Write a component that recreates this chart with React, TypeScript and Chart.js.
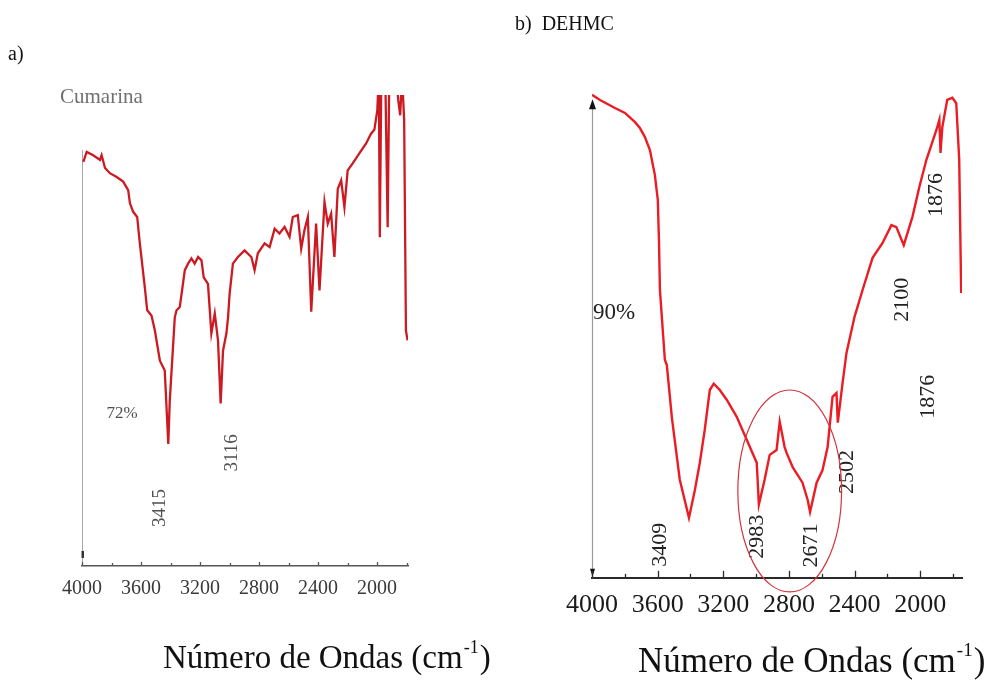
import { useEffect, useRef } from "react";
import { Chart, registerables } from "chart.js";

Chart.register(...registerables);

const SERIF = '"Liberation Serif", "Times New Roman", serif';

// ---------- data: a) Cumarina ----------
const CUMARINA_WAVENUMBERS = [
  3991, 3968, 3924, 3878, 3867, 3844, 3811, 3765, 3721, 3687, 3675, 3653, 3626, 3608, 3574,
  3558, 3529, 3506, 3472, 3439, 3415, 3405, 3371, 3359, 3337, 3303, 3281, 3258, 3236, 3213,
  3190, 3175, 3146, 3123, 3100, 3078, 3060, 3044, 3021, 3010, 2999, 2977, 2943, 2898, 2852,
  2830, 2808, 2762, 2728, 2694, 2661, 2627, 2593, 2571, 2537, 2514, 2492, 2469, 2446, 2413,
  2390, 2356, 2334, 2311, 2289, 2266, 2243, 2221, 2199, 2165, 2120, 2074, 2041, 2018, 1998,
  1988, 1981, 1971, 1944, 1928, 1917, 1870, 1856, 1843, 1830, 1816, 1804, 1793,
];
const CUMARINA_TRANSMITTANCE = [
  85.8, 87.9, 87.2, 86.2, 87.2, 84.5, 83.4, 82.6, 81.6, 79.8, 77.0, 75.2, 74.1, 68.5, 59.1,
  54.3, 53.2, 50.0, 43.6, 41.5, 25.9, 35.1, 52.8, 54.3, 55.0, 62.8, 64.2, 65.3, 64.2, 65.6,
  64.9, 61.3, 59.9, 49.4, 53.6, 47.9, 34.5, 45.7, 49.4, 52.8, 57.9, 64.2, 65.6, 67.0, 65.6,
  62.8, 66.4, 68.5, 67.7, 71.6, 70.6, 72.0, 69.9, 74.1, 74.5, 67.4, 71.3, 74.1, 54.0, 72.7,
  58.5, 77.3, 72.7, 74.8, 65.6, 80.1, 81.9, 76.2, 84.0, 85.5, 87.6, 89.7, 91.8, 92.6, 96.8,
  104, 69.8, 104, 104, 71.9, 104, 104, 98.9, 95.7, 104, 94.7, 50.0, 47.9,
];

// ---------- data: b) DEHMC ----------
const DEHMC_WAVENUMBERS = [
  4000, 3951, 3860, 3799, 3738, 3708, 3678, 3647, 3617, 3599, 3592, 3586, 3556, 3544, 3513,
  3465, 3409, 3373, 3343, 3313, 3282, 3258, 3221, 3179, 3118, 3057, 2996, 2983, 2948, 2917,
  2875, 2856, 2826, 2814, 2777, 2717, 2686, 2671, 2631, 2595, 2564, 2534, 2510, 2502, 2473,
  2449, 2400, 2351, 2290, 2230, 2175, 2145, 2100, 2047, 2005, 1962, 1901, 1883, 1876, 1865,
  1835, 1804, 1780, 1762, 1750,
];
const DEHMC_TRANSMITTANCE = [
  99.0, 97.95, 96.3, 95.3, 93.4, 92.2, 90.4, 87.7, 82.6, 77.5, 69.3, 59.0, 44.7, 43.6, 32.8,
  20.1, 12.3, 18.0, 23.6, 30.3, 38.5, 39.8, 38.5, 36.5, 33.0, 28.3, 23.6, 15.0, 20.1, 25.2,
  26.2, 32.0, 26.8, 25.6, 22.7, 19.5, 16.0, 13.5, 19.5, 22.1, 26.8, 37.1, 37.9, 31.8, 39.9,
  46.1, 53.5, 59.0, 65.6, 68.6, 72.3, 71.9, 68.2, 74.0, 80.1, 85.7, 91.8, 93.9, 87.1, 92.4,
  98.0, 98.4, 97.3, 85.7, 58.4,
];

// ---------- axis ticks ----------
const X_TICK_VALUES = [4000, 3800, 3600, 3400, 3200, 3000, 2800, 2600, 2400, 2200, 2000, 1800];
const X_TICK_LABELS = ["4000", "", "3600", "", "3200", "", "2800", "", "2400", "", "2000", ""];

// ---------- annotations ----------
type Note = {
  text: string;
  wn: number;
  t: number;
  rotate?: boolean;
  size: number;
  color: string;
  align?: CanvasTextAlign;
};

const CUMARINA_NOTES: Note[] = [
  { text: "Cumarina", wn: 4149, t: 99.5, size: 21, color: "#707070", align: "left" },
  { text: "72%", wn: 3729, t: 32.3, size: 17, color: "#505050" },
  { text: "3415", wn: 3472, t: 12.3, rotate: true, size: 19, color: "#505050" },
  { text: "3116", wn: 2985, t: 24.0, rotate: true, size: 19, color: "#505050" },
];

const DEHMC_NOTES: Note[] = [
  { text: "90%", wn: 3866, t: 54.3, size: 23, color: "#222222" },
  { text: "3409", wn: 3586, t: 6.8, rotate: true, size: 22, color: "#222222" },
  { text: "2983", wn: 2996, t: 8.4, rotate: true, size: 22, color: "#222222" },
  { text: "2671", wn: 2662, t: 6.6, rotate: true, size: 22, color: "#222222" },
  { text: "2502", wn: 2443, t: 21.7, rotate: true, size: 22, color: "#222222" },
  { text: "2100", wn: 2108, t: 57.0, rotate: true, size: 22, color: "#222222" },
  { text: "1876", wn: 1901, t: 78.5, rotate: true, size: 22, color: "#222222" },
  { text: "1876", wn: 1950, t: 37.1, rotate: true, size: 22, color: "#222222" },
];

type Panel = {
  wavenumbers: number[];
  values: number[];
  xMin: number;
  lineColor: string;
  lineWidth: number;
  padding: { left: number; right: number; top: number; bottom: number };
  tickSize: number;
  tickColor: string;
  tickPad: number;
  axisColor: string;
  axisWidth: number;
  majorLen: number;
  minorLen: number;
  notes: Note[];
  underlay: (chart: any, ctx: CanvasRenderingContext2D) => void;
  overlay: (chart: any, ctx: CanvasRenderingContext2D) => void;
};

function drawAxisTitle(ctx: CanvasRenderingContext2D, x: number, y: number, size: number) {
  ctx.save();
  ctx.fillStyle = "#111";
  ctx.textAlign = "left";
  ctx.textBaseline = "alphabetic";
  ctx.font = `${size}px ${SERIF}`;
  const main = "Número de Ondas (cm";
  ctx.fillText(main, x, y);
  const w1 = ctx.measureText(main).width;
  const sup = Math.round(size * 0.55);
  ctx.font = `${sup}px ${SERIF}`;
  ctx.fillText("-1", x + w1 + 1, y - size * 0.45);
  const w2 = ctx.measureText("-1").width;
  ctx.font = `${size}px ${SERIF}`;
  ctx.fillText(")", x + w1 + w2 + 2, y);
  ctx.restore();
}

const LEFT_PANEL: Panel = {
  wavenumbers: CUMARINA_WAVENUMBERS,
  values: CUMARINA_TRANSMITTANCE,
  xMin: 1790,
  lineColor: "#cc1a22",
  lineWidth: 2.3,
  padding: { left: 82, right: 90, top: 95, bottom: 74 },
  tickSize: 20,
  tickColor: "#3a3a3a",
  tickPad: 11,
  axisColor: "#555",
  axisWidth: 1.5,
  majorLen: 4,
  minorLen: 3,
  notes: CUMARINA_NOTES,
  underlay: (chart, ctx) => {
    const x = chart.scales.x;
    const y = chart.scales.y;
    const px = Math.round(x.getPixelForValue(4000)) + 0.5;
    ctx.save();
    ctx.strokeStyle = "#a8a8a8";
    ctx.lineWidth = 1;
    ctx.beginPath();
    ctx.moveTo(px, y.getPixelForValue(88.3));
    ctx.lineTo(px, y.getPixelForValue(0));
    ctx.stroke();
    ctx.fillStyle = "#333";
    ctx.fillRect(px - 1, y.getPixelForValue(3.2), 2.5, 7);
    ctx.restore();
  },
  overlay: (_chart, ctx) => {
    ctx.save();
    ctx.fillStyle = "#111";
    ctx.font = `20px ${SERIF}`;
    ctx.textAlign = "left";
    ctx.textBaseline = "alphabetic";
    ctx.fillText("a)", 8, 60);
    ctx.restore();
    drawAxisTitle(ctx, 163, 668, 33);
  },
};

const RIGHT_PANEL: Panel = {
  wavenumbers: DEHMC_WAVENUMBERS,
  values: DEHMC_TRANSMITTANCE,
  xMin: 1745,
  lineColor: "#ea1c24",
  lineWidth: 2.4,
  padding: { left: 94, right: 34, top: 90, bottom: 53 },
  tickSize: 26,
  tickColor: "#1a1a1a",
  tickPad: 12,
  axisColor: "#2a2a2a",
  axisWidth: 2,
  majorLen: 7,
  minorLen: 4,
  notes: DEHMC_NOTES,
  underlay: (chart, ctx) => {
    const x = chart.scales.x;
    const y = chart.scales.y;
    const px = Math.round(x.getPixelForValue(4000)) + 0.5;
    const top = y.getPixelForValue(97.5);
    const bottom = y.getPixelForValue(0);
    ctx.save();
    ctx.strokeStyle = "#9a9a9a";
    ctx.lineWidth = 1.2;
    ctx.beginPath();
    ctx.moveTo(px, top + 4);
    ctx.lineTo(px, bottom);
    ctx.stroke();
    ctx.fillStyle = "#111";
    ctx.beginPath();
    ctx.moveTo(px, top - 3);
    ctx.lineTo(px - 3.5, top + 7);
    ctx.lineTo(px + 3.5, top + 7);
    ctx.closePath();
    ctx.fill();
    ctx.beginPath();
    ctx.moveTo(px, bottom - 1);
    ctx.lineTo(px - 2.5, bottom - 9);
    ctx.lineTo(px + 2.5, bottom - 9);
    ctx.closePath();
    ctx.fill();
    ctx.restore();
  },
  overlay: (chart, ctx) => {
    const x = chart.scales.x;
    const y = chart.scales.y;
    // highlight ellipse around the 2983 / 2671 bands
    const cx = x.getPixelForValue(2795);
    const cy = y.getPixelForValue(17.8);
    const rx = Math.abs(x.getPixelForValue(2795 - 316) - cx);
    const ry = Math.abs(y.getPixelForValue(17.8 + 20.7) - cy);
    ctx.save();
    ctx.strokeStyle = "#d2343e";
    ctx.lineWidth = 1.2;
    ctx.beginPath();
    ctx.ellipse(cx, cy, rx, ry, 0, 0, Math.PI * 2);
    ctx.stroke();
    ctx.fillStyle = "#111";
    ctx.font = `20px ${SERIF}`;
    ctx.textAlign = "left";
    ctx.textBaseline = "alphabetic";
    ctx.fillText("b)  DEHMC", 17, 30);
    ctx.restore();
    drawAxisTitle(ctx, 140, 672, 35);
  },
};

function buildChart(canvas: HTMLCanvasElement, panel: Panel) {
  const decor = {
    id: "decor",
    beforeDatasetsDraw(chart: any) {
      panel.underlay(chart, chart.ctx);
    },
    afterDraw(chart: any) {
      const ctx: CanvasRenderingContext2D = chart.ctx;
      const x = chart.scales.x;
      const y = chart.scales.y;
      const base = chart.chartArea.bottom;
      ctx.save();
      ctx.strokeStyle = panel.axisColor;
      ctx.lineWidth = 1.3;
      X_TICK_VALUES.forEach((v, i) => {
        const px = Math.round(x.getPixelForValue(v)) + 0.5;
        const len = X_TICK_LABELS[i] ? panel.majorLen : panel.minorLen;
        ctx.beginPath();
        ctx.moveTo(px, base);
        ctx.lineTo(px, base - len);
        ctx.stroke();
      });
      ctx.restore();
      panel.notes.forEach((n) => {
        const px = x.getPixelForValue(n.wn);
        const py = y.getPixelForValue(n.t);
        ctx.save();
        ctx.fillStyle = n.color;
        ctx.font = `${n.size}px ${SERIF}`;
        ctx.textBaseline = "middle";
        ctx.textAlign = n.align || "center";
        ctx.translate(px, py);
        if (n.rotate) ctx.rotate(-Math.PI / 2);
        ctx.fillText(n.text, 0, 0);
        ctx.restore();
      });
      panel.overlay(chart, ctx);
    },
  };

  return new Chart(canvas, {
    type: "line",
    data: {
      datasets: [
        {
          data: panel.wavenumbers.map((w, i) => ({ x: w, y: panel.values[i] })),
          borderColor: panel.lineColor,
          borderWidth: panel.lineWidth,
          pointRadius: 0,
          tension: 0,
          fill: false,
          clip: 0,
        } as any,
      ],
    },
    options: {
      responsive: false,
      animation: false,
      events: [],
      layout: { padding: panel.padding },
      plugins: { legend: { display: false }, tooltip: { enabled: false }, title: { display: false } },
      scales: {
        x: {
          type: "linear",
          reverse: true,
          min: panel.xMin,
          max: 4000,
          afterBuildTicks: (scale: any) => {
            scale.ticks = X_TICK_VALUES.map((v) => ({ value: v }));
          },
          grid: { display: false, drawTicks: false, drawOnChartArea: false },
          border: { display: true, color: panel.axisColor, width: panel.axisWidth },
          ticks: {
            autoSkip: false,
            maxRotation: 0,
            minRotation: 0,
            padding: panel.tickPad,
            color: panel.tickColor,
            font: { family: SERIF, size: panel.tickSize },
            callback: (value: any) => {
              const i = X_TICK_VALUES.indexOf(Number(value));
              return i >= 0 ? X_TICK_LABELS[i] : "";
            },
          },
        },
        y: {
          type: "linear",
          display: false,
          min: 0,
          max: 100,
        },
      },
    },
    plugins: [decor],
  } as any);
}

function Spectrum({ panel, left }: { panel: Panel; left: number }) {
  const ref = useRef<HTMLCanvasElement | null>(null);
  useEffect(() => {
    if (!ref.current) return;
    const chart = buildChart(ref.current, panel);
    return () => chart.destroy();
  }, [panel]);
  return (
    <canvas
      ref={ref}
      width={498}
      height={686}
      style={{ position: "absolute", left, top: 0, width: 498, height: 686 }}
    />
  );
}

export default function App() {
  return (
    <div
      style={{
        position: "fixed",
        left: 0,
        top: 0,
        width: 996,
        height: 686,
        background: "#ffffff",
        overflow: "hidden",
      }}
    >
      <Spectrum panel={LEFT_PANEL} left={0} />
      <Spectrum panel={RIGHT_PANEL} left={498} />
    </div>
  );
}
